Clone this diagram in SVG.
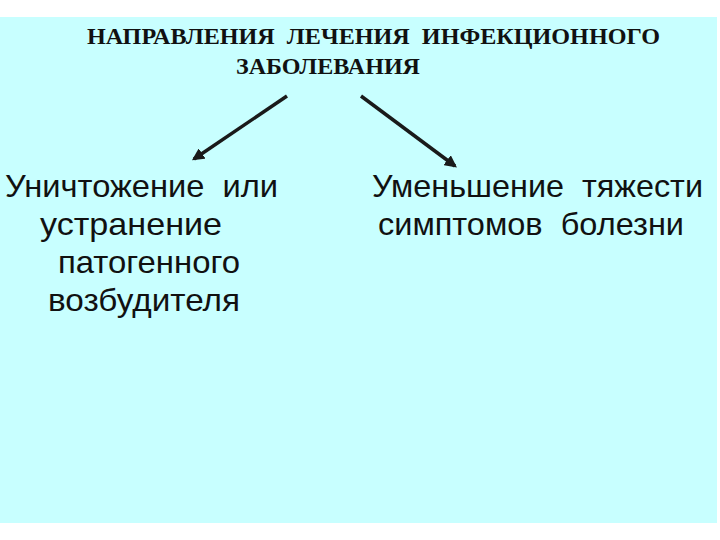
<svg xmlns="http://www.w3.org/2000/svg" width="720" height="540" viewBox="0 0 720 540">
<style>
text{white-space:pre}
.t{font-family:"Liberation Serif","Times New Roman",serif;font-weight:bold;font-size:23px;fill:#111}
.b{font-family:"Liberation Sans",Arial,sans-serif;font-size:32px;fill:#111}
.c{stroke:#1a1a1a;stroke-width:3.5;fill:none}
</style>
<defs>
<marker id="ah" viewBox="0 0 10 10" refX="8" refY="5" markerWidth="3.5" markerHeight="3.5" orient="auto" markerUnits="strokeWidth">
<path d="M0,0 L10,5 L0,10 z" fill="#1a1a1a"/>
</marker>
</defs>
<rect x="0" y="0" width="720" height="540" fill="#ffffff"/>
<rect x="0" y="17" width="717" height="506" fill="#c8ffff"/>
<g id="title">
<text class="t" x="87" y="44" textLength="573" lengthAdjust="spacingAndGlyphs" xml:space="preserve">НАПРАВЛЕНИЯ  ЛЕЧЕНИЯ  ИНФЕКЦИОННОГО</text>
<text class="t" x="236" y="74" textLength="184" lengthAdjust="spacingAndGlyphs">ЗАБОЛЕВАНИЯ</text>
</g>
<g id="connectors">
<line class="c" x1="287" y1="96" x2="194" y2="159" marker-end="url(#ah)"/>
<line class="c" x1="361" y1="96" x2="455" y2="166" marker-end="url(#ah)"/>
</g>
<g id="left">
<text class="b" x="5" y="197" textLength="273" lengthAdjust="spacingAndGlyphs" xml:space="preserve">Уничтожение  или</text>
<text class="b" x="40" y="235" textLength="182" lengthAdjust="spacingAndGlyphs">устранение</text>
<text class="b" x="58" y="273" textLength="182" lengthAdjust="spacingAndGlyphs">патогенного</text>
<text class="b" x="48" y="311" textLength="192" lengthAdjust="spacingAndGlyphs">возбудителя</text>
</g>
<g id="right">
<text class="b" x="372" y="197" textLength="331" lengthAdjust="spacingAndGlyphs" xml:space="preserve">Уменьшение  тяжести</text>
<text class="b" x="378" y="235" textLength="306" lengthAdjust="spacingAndGlyphs" xml:space="preserve">симптомов  болезни</text>
</g>
</svg>
